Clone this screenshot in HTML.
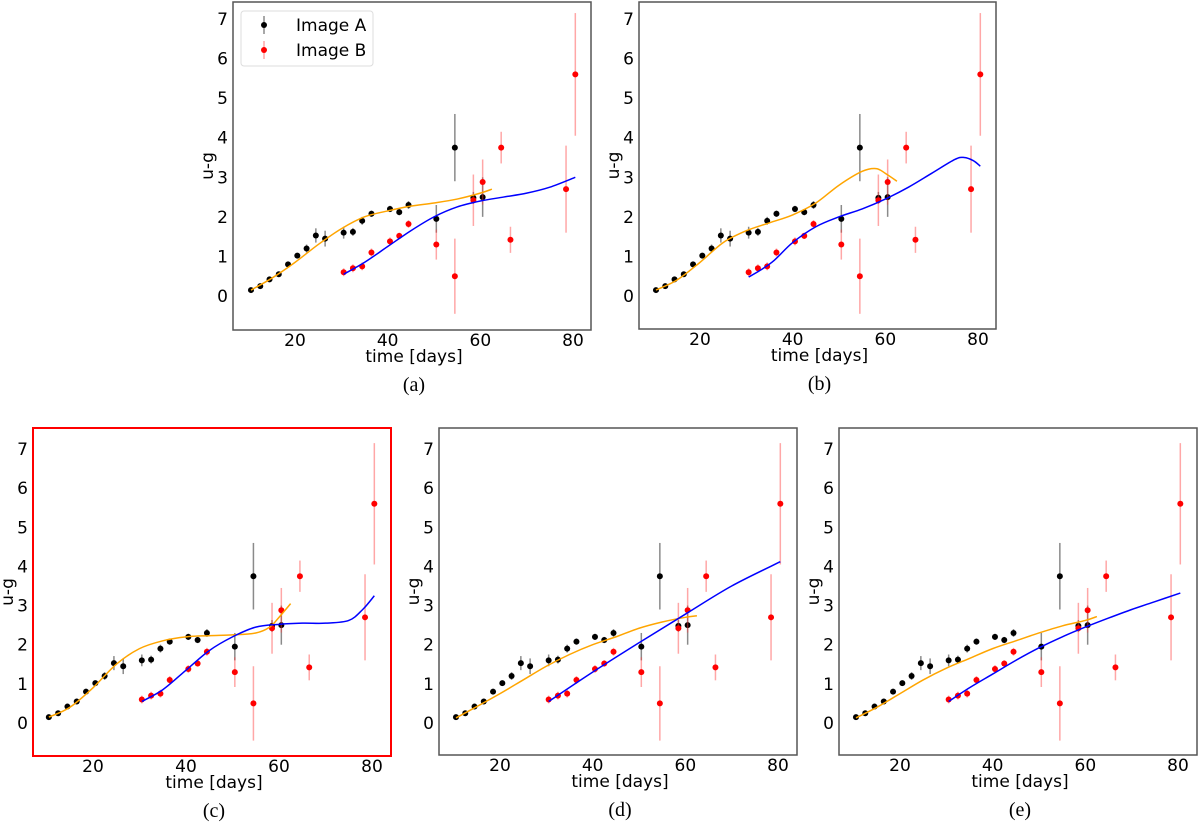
<!DOCTYPE html>
<html><head><meta charset="utf-8">
<style>
html,body{margin:0;padding:0;background:#fff;}
svg{display:block;}
text{font-family:"DejaVu Sans","Liberation Sans",sans-serif;}
.cap{font-family:"Liberation Serif",serif;font-size:20px;}
</style></head>
<body>
<svg id="fig" width="1200" height="832" viewBox="0 0 1200 832" xmlns="http://www.w3.org/2000/svg"></svg>
<script>
// shared observations
const timeA = [10.5,12.5,14.5,16.5,18.5,20.5,22.5,24.5,26.5,30.5,32.5,34.5,36.5,40.5,42.5,44.5,50.5,54.5,58.5,60.5];
const valA  = [0.15,0.25,0.42,0.55,0.8,1.02,1.2,1.53,1.45,1.6,1.62,1.9,2.08,2.2,2.12,2.3,1.95,3.75,2.48,2.5];
const errA  = [0.03,0.03,0.04,0.04,0.05,0.06,0.1,0.18,0.2,0.15,0.1,0.1,0.08,0.08,0.08,0.1,0.35,0.85,0.15,0.5];
const timeB = [30.5,32.5,34.5,36.5,40.5,42.5,44.5,50.5,54.5,58.5,60.5,64.5,66.5,78.5,80.5];
const valB  = [0.6,0.7,0.75,1.1,1.38,1.52,1.82,1.3,0.5,2.42,2.88,3.75,1.42,2.7,5.6];
const errB  = [0.1,0.1,0.1,0.1,0.1,0.08,0.1,0.38,0.95,0.65,0.57,0.4,0.33,1.1,1.55];
const xTicks = [20,40,60,80];
const yTicks = [0,1,2,3,4,5,6,7];
// fitted curves per panel (time, value)
const orangeT_a=[10.5,15,20,25,30,35,40,45,50,55,60,62.5];
const orangeV_a=[0.15,0.45,0.85,1.3,1.7,2.0,2.15,2.27,2.35,2.45,2.6,2.7];
const blueT_a=[30.5,35,40,45,50,55,60,65,70,75,80.5];
const blueV_a=[0.55,0.85,1.25,1.65,2.0,2.25,2.4,2.5,2.6,2.75,3.0];
const orangeT_b=[10.5,15,20,25,30,35,40,45,50,55,58,60,62.5];
const orangeV_b=[0.15,0.4,0.85,1.35,1.65,1.85,2.05,2.35,2.8,3.15,3.22,3.1,2.9];
const blueT_b=[30.5,33,36,40,45,50,55,60,65,70,75,77,79,80.5];
const blueV_b=[0.48,0.65,0.9,1.35,1.75,2.0,2.2,2.45,2.75,3.1,3.45,3.5,3.42,3.28];
const orangeT_c=[10.5,15,20,25,30,35,40,45,50,55,58,60,62.5];
const orangeV_c=[0.15,0.4,0.9,1.5,1.9,2.1,2.2,2.23,2.25,2.3,2.45,2.7,3.05];
const blueT_c=[30.5,35,40,45,50,55,60,65,70,75,78,80.5];
const blueV_c=[0.55,0.85,1.35,1.85,2.2,2.45,2.52,2.55,2.55,2.62,2.9,3.25];
const orangeT_d=[10.5,15,20,25,30,35,40,45,50,55,60,62.5];
const orangeV_d=[0.13,0.42,0.75,1.1,1.45,1.75,2.0,2.2,2.42,2.58,2.7,2.74];
const blueT_d=[30.5,40,50,60,70,80.5];
const blueV_d=[0.55,1.3,2.05,2.78,3.5,4.12];
const orangeT_e=[10.5,15,20,25,30,35,40,45,50,55,60,62.5];
const orangeV_e=[0.13,0.4,0.75,1.1,1.4,1.65,1.9,2.1,2.3,2.48,2.62,2.72];
const blueT_e=[30.5,35,40,45,50,55,60,65,70,75,80.5];
const blueV_e=[0.55,0.9,1.25,1.6,1.92,2.2,2.45,2.68,2.9,3.1,3.32];

const NS="http://www.w3.org/2000/svg";
const svg=document.getElementById('fig');
function mk(tag,attrs,parent){const e=document.createElementNS(NS,tag);for(const k in attrs)e.setAttribute(k,attrs[k]);(parent||svg).appendChild(e);return e;}
function smoothPath(pts){
 let d='M'+pts[0][0]+','+pts[0][1];
 for(let i=0;i<pts.length-1;i++){
  const p0=pts[i-1]||pts[i],p1=pts[i],p2=pts[i+1],p3=pts[i+2]||p2;
  const c1=[p1[0]+(p2[0]-p0[0])/6,p1[1]+(p2[1]-p0[1])/6];
  const c2=[p2[0]-(p3[0]-p1[0])/6,p2[1]-(p3[1]-p1[1])/6];
  d+=' C'+c1[0]+','+c1[1]+' '+c2[0]+','+c2[1]+' '+p2[0]+','+p2[1];
 }
 return d;
}

const panels=[
 {id:'a',fx0:233,fx1:591,fy0:2,fy1:330,x20:295,x80:573,y0:296,y7:19,oT:orangeT_a,oV:orangeV_a,bT:blueT_a,bV:blueV_a,frame:'#555',legend:true,cap:'(a)'},
 {id:'b',fx0:639,fx1:996,fy0:2,fy1:329,x20:700,x80:978,y0:296,y7:19,oT:orangeT_b,oV:orangeV_b,bT:blueT_b,bV:blueV_b,frame:'#555',cap:'(b)'},
 {id:'c',fx0:33,fx1:391,fy0:428,fy1:756,x20:93,x80:372,y0:723,y7:449,oT:orangeT_c,oV:orangeV_c,bT:blueT_c,bV:blueV_c,frame:'#f00',cap:'(c)'},
 {id:'d',fx0:439,fx1:797,fy0:428,fy1:755,x20:500,x80:778,y0:723,y7:449,oT:orangeT_d,oV:orangeV_d,bT:blueT_d,bV:blueV_d,frame:'#555',cap:'(d)'},
 {id:'e',fx0:839,fx1:1197,fy0:428,fy1:755,x20:900,x80:1178,y0:723,y7:449,oT:orangeT_e,oV:orangeV_e,bT:blueT_e,bV:blueV_e,frame:'#555',cap:'(e)'}
];

panels.forEach(p=>{
 const g=mk('g',{});
 
 
 const sx=t=>p.x20+(t-20)*(p.x80-p.x20)/60;
 const sy=v=>p.y0-v*(p.y0-p.y7)/7;
 const fr=mk('rect',{x:p.fx0,y:p.fy0,width:p.fx1-p.fx0,height:p.fy1-p.fy0,fill:'none',stroke:p.frame,'stroke-width':p.frame==='#f00'?2:1.5},g);
 
 
 xTicks.forEach(t=>{
  const tx=mk('text',{x:sx(t),y:p.fy1+16,'font-size':17,'text-anchor':'middle',fill:'#000'},g);
  tx.textContent=t;
  
  
 });
 yTicks.forEach(v=>{
  const ty=mk('text',{x:p.fx0-5,y:sy(v)+6,'font-size':17,'text-anchor':'end',fill:'#000'},g);
  ty.textContent=v;
  
  
 });
 const xl=mk('text',{x:(p.fx0+p.fx1)/2+2,y:p.fy1+32,'font-size':17,'text-anchor':'middle'},g);
 xl.textContent='time [days]';
 
 
 const yl=mk('text',{x:0,y:0,'font-size':17,'text-anchor':'middle',transform:`translate(${p.fx0-20},${(p.fy0+p.fy1)/2}) rotate(-90)`},g);
 yl.textContent='u-g';
 
 
 const cp=mk('text',{x:(p.fx0+p.fx1)/2+2,y:p.fy1+61,'text-anchor':'middle',class:'cap'},g);
 cp.textContent=p.cap;
 
 
 function series(T,V,E,ecol,pcol,name){
  T.forEach((t,i)=>{
   const l=mk('line',{x1:sx(t),x2:sx(t),y1:sy(V[i]-E[i]),y2:sy(V[i]+E[i]),stroke:ecol,'stroke-width':1.5},g);
   
   
  });
  T.forEach((t,i)=>{
   const c=mk('circle',{cx:sx(t),cy:sy(V[i]),r:3,fill:pcol},g);
   
   
  });
 }
 series(timeA,valA,errA,'rgba(60,60,60,0.6)','#000','image-a');
 series(timeB,valB,errB,'rgba(255,60,60,0.45)','#f00','image-b');
 const po=mk('path',{d:smoothPath(p.oT.map((t,i)=>[sx(t),sy(p.oV[i])])),fill:'none',stroke:'#ffa500','stroke-width':1.5},g);
 
 
 const pb=mk('path',{d:smoothPath(p.bT.map((t,i)=>[sx(t),sy(p.bV[i])])),fill:'none',stroke:'#0000ff','stroke-width':1.5},g);
 
 
 if(p.legend){
  const lg=mk('g',{},g);
  
  
  mk('rect',{x:241,y:11,width:132,height:55,rx:3,fill:'#fff',stroke:'#ddd'},lg);
  [['Image A','#000','rgba(60,60,60,0.6)',25],['Image B','#f00','rgba(255,60,60,0.45)',50]].forEach(e=>{
   const it=mk('g',{},lg);
   
   
   mk('line',{x1:264,x2:264,y1:e[3]-9,y2:e[3]+9,stroke:e[2],'stroke-width':1.5},it);
   mk('circle',{cx:264,cy:e[3],r:3,fill:e[1]},it);
   const t=mk('text',{x:296,y:e[3]+6,'font-size':17},it);
   t.textContent=e[0];
  });
 }
});
</script>
</body></html>
